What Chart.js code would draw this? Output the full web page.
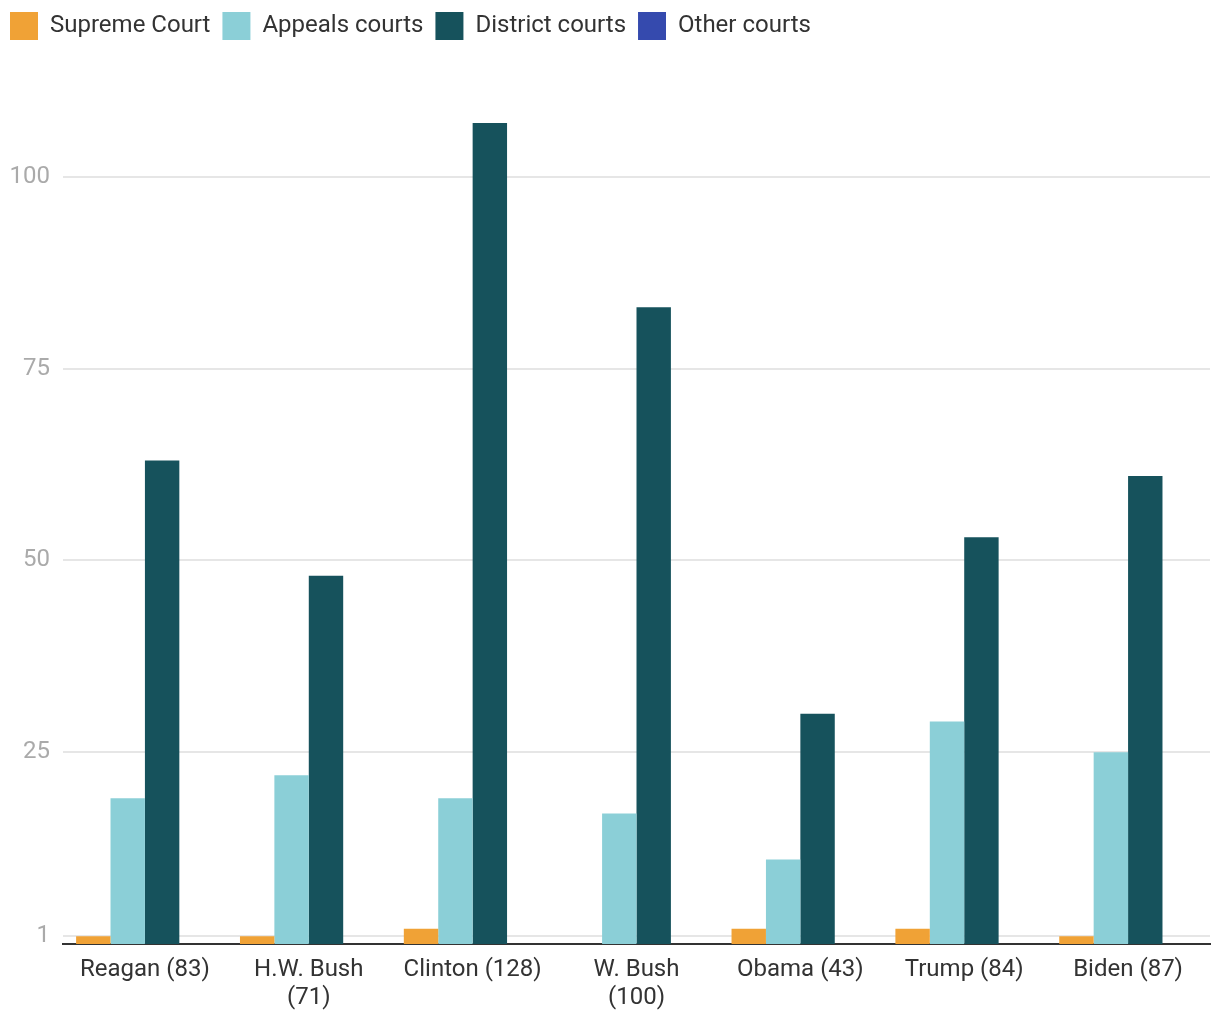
<!DOCTYPE html>
<html>
<head>
<meta charset="utf-8">
<script src="https://cdn.jsdelivr.net/npm/chart.js@4"></script>
<style>
  html, body { margin: 0; padding: 0; background: #fff; }
  #wrap { width: 1220px; height: 1020px; position: relative; }
</style>
</head>
<body>
<div id="wrap"><canvas id="c" width="1220" height="1020"></canvas></div>
<script>
const categories = [
  "Reagan (83)",
  ["H.W. Bush", "(71)"],
  "Clinton (128)",
  ["W. Bush", "(100)"],
  "Obama (43)",
  "Trump (84)",
  "Biden (87)"
];
const supremeCourt = [1, 1, 2, 0, 2, 2, 1];
const appealsCourts = [19, 22, 19, 17, 11, 29, 25];
const districtCourts = [63, 48, 107, 83, 30, 53, 61];
const otherCourts = [0, 0, 0, 0, 0, 0, 0];
const yTicks = [1, 25, 50, 75, 100];

const FONT = "Roboto, 'Noto Sans', sans-serif";

const legendHeightPlugin = {
  id: 'legendHeight',
  beforeInit(chart) {
    const lg = chart.legend;
    if (!lg) return;
    const orig = lg.fit;
    lg.fit = function () {
      orig.call(this);
      this.height = 100;
    };
  }
};

new Chart(document.getElementById('c'), {
  type: 'bar',
  data: {
    labels: categories,
    datasets: [
      { label: 'Supreme Court', data: supremeCourt, backgroundColor: '#F0A236' },
      { label: 'Appeals courts', data: appealsCourts, backgroundColor: '#8BCFD7' },
      { label: 'District courts', data: districtCourts, backgroundColor: '#16525C' },
      { label: 'Other courts', data: otherCourts, backgroundColor: '#354AAE' }
    ]
  },
  options: {
    responsive: false,
    animation: false,
    devicePixelRatio: 1,
    layout: { padding: { left: -2, right: 10, top: 0, bottom: 0 } },
    datasets: { bar: { categoryPercentage: 0.84, barPercentage: 1.0, borderWidth: 0 } },
    plugins: {
      legend: {
        position: 'top',
        align: 'start',
        labels: {
          boxWidth: 28,
          boxHeight: 28,
          padding: 12,
          color: '#333',
          font: { family: FONT, size: 24 }
        }
      },
      tooltip: { enabled: false }
    },
    scales: {
      x: {
        grid: { display: false, drawTicks: false },
        border: { display: true, color: '#333', width: 2 },
        ticks: {
          color: '#333',
          padding: 12,
          maxRotation: 0,
          autoSkip: false,
          font: { family: FONT, size: 24, lineHeight: 1.17 }
        },
        afterFit(s) { s.height = 76; }
      },
      y: {
        min: 0,
        max: 110,
        afterBuildTicks(s) { s.ticks = yTicks.map(v => ({ value: v })); },
        grid: { color: '#e6e6e6', lineWidth: 2, drawTicks: false },
        border: { display: false },
        ticks: {
          color: '#aaa',
          padding: 13,
          font: { family: FONT, size: 24 }
        },
        afterFit(s) { s.width = 65; }
      }
    }
  },
  plugins: [legendHeightPlugin]
});
</script>
</body>
</html>
